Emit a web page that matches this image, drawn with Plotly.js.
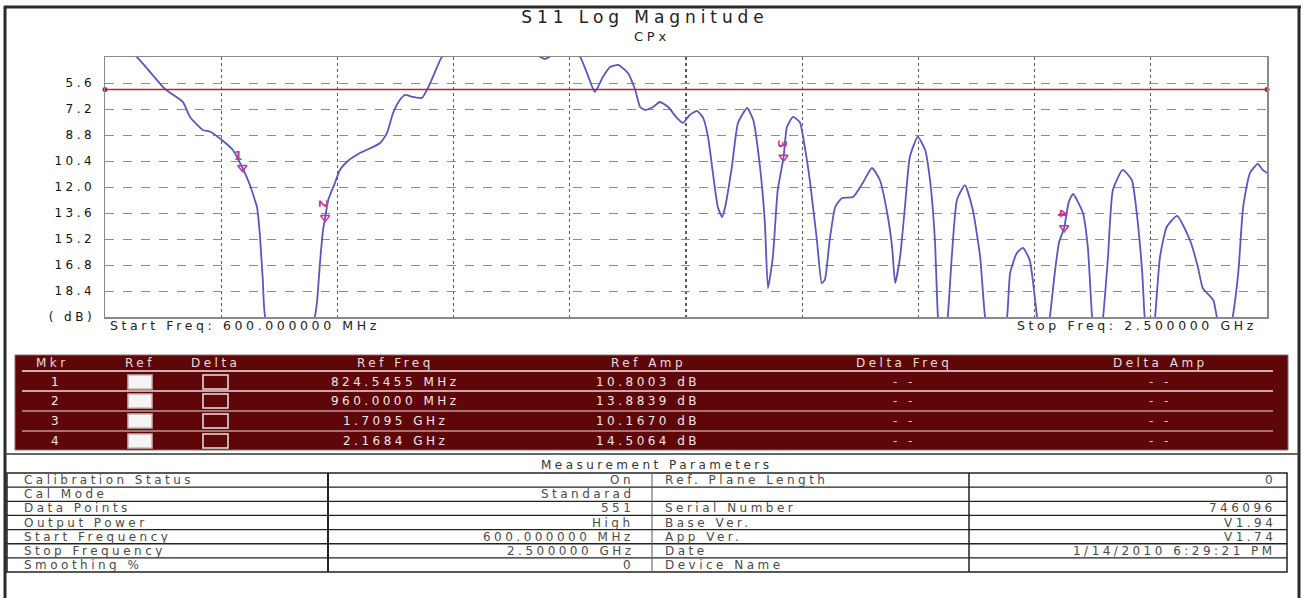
<!DOCTYPE html>
<html>
<head>
<meta charset="utf-8">
<script src="https://cdn.plot.ly/plotly-3.0.1.min.js"></script>
<style>
  html,body{margin:0;padding:0;background:#fff;}
  #chart text, #js-plotly-tester text { letter-spacing: 0.29em; }
</style>
</head>
<body>
<div id="chart" style="width:1304px;height:598px;"></div>
<script>
// ---------------- DATA ----------------
const freqMHz = [600,652,698,727,739,760,772,791,809,824.5,837,845,848.5,853,858,862,902,943,947,951.5,956.5,960,965,976,984,997,1017,1050,1061,1071,1082,1090,1104,1118,1128,1143,1151,1213,1295,1319,1344,1360,1377,1388,1401,1414,1426,1439,1455,1467,1475,1483,1496,1507,1521,1535,1545,1556,1568,1578,1586,1594,1602,1609,1614,1625,1635,1650,1660,1671,1679,1684,1692,1700,1709.5,1715,1725,1736,1745,1753,1764,1772,1777,1785,1794,1805,1823,1839,1854,1867,1879,1887,1892,1900,1908,1916,1929,1941,1949,1957,1962,1970,1978,1985,1993,2006,2019,2031,2039,2057,2075,2080,2091,2101,2112,2117,2124,2134,2145,2153,2160,2168.4,2176,2183,2199,2207,2214,2222,2232,2240,2248,2264,2279,2287,2296,2300,2309,2317,2325,2336,2353,2374,2387,2395,2412,2418,2431,2444,2453,2461,2472,2485,2493,2500];
const s11dB = [2.6,4.0,5.97,6.75,7.69,8.49,8.6,9.11,9.72,10.80,11.88,12.80,13.23,14.83,17.72,20.0,23.5,20.0,18.95,16.68,14.65,13.88,12.80,11.75,10.95,10.40,9.91,9.29,8.68,7.45,6.65,6.34,6.46,6.52,5.91,4.62,4.0,2.6,3.6,4.12,3.6,3.4,4.0,4.98,6.15,5.23,4.62,4.49,4.98,6.03,7.08,7.26,7.08,6.77,7.08,7.75,8.06,7.57,7.32,7.75,8.92,11.14,13.23,13.85,13.23,10.77,8.06,7.14,7.88,10.77,14.22,18.22,16.31,12.18,10.17,8.31,7.69,8.0,9.72,11.75,15.26,17.91,17.72,15.26,13.23,12.68,12.62,11.75,10.83,11.57,13.6,15.69,17.91,16.31,13.23,10.15,8.92,9.72,11.57,15.26,20.0,22.5,20.0,16.06,12.80,11.88,13.42,16.31,20.0,23.5,20.0,17.29,16.06,15.75,16.49,17.72,20.0,22.5,20.0,17.29,15.4,14.51,12.9,12.43,13.6,15.69,20.0,22.5,20.0,16.31,12.18,10.95,11.57,13.6,17.29,20.0,22.5,20.0,16.31,14.46,13.78,15.26,16.92,18.22,18.95,20.0,22.5,20.0,17.29,13.23,11.14,10.58,10.95,11.14];

const limitDB = 6.0;
const limitFreqMHz = [600, 2251, 2500];

const yTickVals = [5.6,7.2,8.8,10.4,12.0,13.6,15.2,16.8,18.4,20.0];
const yTickText = ['5.6','7.2','8.8','10.4','12.0','13.6','15.2','16.8','18.4','( dB)'];

const mkrIds = ['1','2','3','4'];
const mkrFreqMHz = [824.5455, 960.0, 1709.5, 2168.4];
const mkrAmpDB = [10.8003, 13.8839, 10.1670, 14.5064];
const mkrFreqText = ['824.5455 MHz','960.0000 MHz','1.7095 GHz','2.1684 GHz'];
const mkrAmpText = ['10.8003 dB','13.8839 dB','10.1670 dB','14.5064 dB'];
const mkrDeltaFreq = ['- -','- -','- -','- -'];
const mkrDeltaAmp = ['- -','- -','- -','- -'];
const mkrHeaders = ['Mkr','Ref','Delta','Ref Freq','Ref Amp','Delta Freq','Delta Amp'];

const paramTitle = 'Measurement Parameters';
const paramLabelsL = ['Calibration Status','Cal Mode','Data Points','Output Power','Start Frequency','Stop Frequency','Smoothing %'];
const paramValuesL = ['On','Standarad','551','High','600.000000 MHz','2.500000 GHz','0'];
const paramLabelsR = ['Ref. Plane Length','','Serial Number','Base Ver.','App Ver.','Date','Device Name'];
const paramValuesR = ['0','','746096','V1.94','V1.74','1/14/2010 6:29:21 PM',''];

const chartTitle = 'S11 Log Magnitude';
const chartSubtitle = 'CPx';
const startText = 'Start Freq: 600.000000 MHz';
const stopText = 'Stop Freq: 2.500000 GHz';

// ---------------- LAYOUT HELPERS ----------------
const W = 1304, H = 598, L = 105, R = 1267, T = 57, B = 317;
const px = x => (x - L) / (R - L);
const py = y => (B - y) / (B - T);
const FONT = 'DejaVu Sans, Liberation Sans, Arial, sans-serif';
const shapes = [];
const annotations = [];
function line(x0, y0, x1, y1, color, width) {
  shapes.push({type:'line', xref:'paper', yref:'paper', x0:px(x0), y0:py(y0), x1:px(x1), y1:py(y1),
               line:{color:color, width:width}, layer:'above'});
}
function rect(x0, y0, x1, y1, fill, lcolor, lwidth) {
  shapes.push({type:'rect', xref:'paper', yref:'paper', x0:px(x0), y0:py(y0), x1:px(x1), y1:py(y1),
               fillcolor:fill, line:{color:lcolor || 'rgba(0,0,0,0)', width:lwidth || 0}, layer:'above'});
}
function txt(x, y, text, anchor, size, color) {
  annotations.push({xref:'paper', yref:'paper', x:px(x), y:py(y), text:text, showarrow:false,
                    xanchor:anchor, yanchor:'middle', font:{family:FONT, size:size, color:color}});
}

// outer frame
line(4, 7, 1301, 7, '#2b2b2b', 3);
line(5, 6, 5, 598, '#2b2b2b', 3);
line(1299, 6, 1299, 598, '#2b2b2b', 3);
line(5, 454, 1299, 454, '#333', 1.5);

// subtitle & start/stop labels
txt(652, 36, chartSubtitle, 'center', 13, '#222');
txt(108, 325, startText, 'left', 12.5, '#222');
txt(1259, 325, stopText, 'right', 12.5, '#222');

// marker table
const mtTop = 355, mtBot = 450, mtL = 15, mtR = 1288;
rect(mtL, mtTop, mtR, mtBot, '#5f0609', '#8a6a6a', 1);
const rowY = [382, 401, 421, 441];
const colX = [52, 140, 215, 395, 648, 904, 1160];
line(22, 371, 1273, 371, '#f0e8e8', 1.5);
line(22, 391, 1273, 391, '#e6dcdc', 1.3);
line(22, 411, 1273, 411, '#b89a9a', 1.3);
line(22, 431, 1273, 431, '#b89a9a', 1.3);
mkrHeaders.forEach((h, i) => txt(colX[i], 363, h, 'center', 12, '#e8dede'));
mkrIds.forEach((id, r) => {
  const y = rowY[r];
  txt(colX[0] + 4, y, id, 'center', 12, '#f0e8e8');
  rect(128, y - 7, 152, y + 7, '#f4f4f4', '#c8b4b4', 1.5);
  rect(203, y - 7, 228, y + 7, 'rgba(0,0,0,0)', '#ece4e4', 1.5);
  txt(colX[3], y, mkrFreqText[r], 'center', 12, '#f0e8e8');
  txt(colX[4], y, mkrAmpText[r], 'center', 12, '#f0e8e8');
  txt(colX[5], y, mkrDeltaFreq[r], 'center', 12, '#d8cccc');
  txt(colX[6], y, mkrDeltaAmp[r], 'center', 12, '#d8cccc');
});

// parameters table
txt(656, 465, paramTitle, 'center', 12, '#333');
const ptTop = 473, ptRow = 14.15;
rect(7, ptTop, 1287, ptTop + 7 * ptRow, 'rgba(0,0,0,0)', '#222', 1.5);
for (let i = 1; i < 7; i++) line(7, ptTop + i * ptRow, 1287, ptTop + i * ptRow, '#222', 1.3);
line(328, ptTop, 328, ptTop + 7 * ptRow, '#222', 2);
line(652, ptTop, 652, ptTop + 7 * ptRow, '#555', 1);
line(969, ptTop, 969, ptTop + 7 * ptRow, '#222', 1.5);
for (let i = 0; i < 7; i++) {
  const y = ptTop + (i + 0.5) * ptRow;
  txt(22, y, paramLabelsL[i], 'left', 12, '#4a4a4a');
  if (paramValuesL[i]) txt(636, y, paramValuesL[i], 'right', 12, '#4a4a4a');
  if (paramLabelsR[i]) txt(663, y, paramLabelsR[i], 'left', 12, '#4a4a4a');
  if (paramValuesR[i]) txt(1278, y, paramValuesR[i], 'right', 12, '#4a4a4a');
}

// marker labels on the curve
mkrIds.forEach((id, i) => {
  annotations.push({xref:'x', yref:'y', x:mkrFreqMHz[i], y:mkrAmpDB[i], text:id, showarrow:false,
    yshift:12, xshift:-2, textangle: i === 0 ? 0 : 90,
    font:{family:FONT, size:12, color:'#cc3399', weight:'bold'}});
});

// ---------------- TRACES ----------------
const traces = [
  {x: freqMHz, y: s11dB, type:'scatter', mode:'lines',
   line:{color:'#5858c0', width:1.8, shape:'spline', smoothing:0.5}, cliponaxis:true},
  {x: limitFreqMHz.slice(0, 2), y: [limitDB, limitDB], type:'scatter', mode:'lines',
   line:{color:'#b0262b', width:1.6}},
  {x: limitFreqMHz.slice(1), y: [limitDB, limitDB], type:'scatter', mode:'lines',
   line:{color:'#b42a30', width:1.3}},
  {x: [limitFreqMHz[0], limitFreqMHz[2]], y: [limitDB, limitDB], type:'scatter', mode:'markers',
   marker:{color:'#b0262b', size:5}, cliponaxis:false},
  {x: mkrFreqMHz, y: mkrAmpDB, type:'scatter', mode:'markers',
   marker:{symbol:'triangle-down-open', size:8, color:'#cc3399', line:{width:1.5, color:'#cc3399'}}}
];

const layout = {
  width: W, height: H,
  paper_bgcolor:'#ffffff', plot_bgcolor:'#ffffff',
  showlegend:false,
  margin:{l:L, r:W - R, t:T, b:H - B, pad:0},
  title:{text: chartTitle, x: 645 / W, xanchor:'center', y: 1 - 17 / H, yanchor:'middle', yref:'container',
         font:{family:FONT, size:17, color:'#222'}},
  xaxis:{range:[600, 2500], tickmode:'linear', tick0:600, dtick:190, showticklabels:false, ticks:'',
         showgrid:true, gridcolor:'#5a5a5a', griddash:'dot', gridwidth:1.3,
         showline:true, mirror:true, linecolor:'#8a8a8a', linewidth:1.5, zeroline:false, fixedrange:true},
  yaxis:{range:[20, 4], tickmode:'array', tickvals:yTickVals, ticktext:yTickText, ticks:'',
         showgrid:true, gridcolor:'#8c8c8c', griddash:'dash', gridwidth:1,
         showline:true, mirror:true, linecolor:'#8a8a8a', linewidth:1.5, zeroline:false,
         ticklabelstandoff:6, tickfont:{family:FONT, size:12, color:'#111'}, fixedrange:true},
  shapes: shapes,
  annotations: annotations
};

Plotly.newPlot('chart', traces, layout, {staticPlot:true, displayModeBar:false});
</script>
</body>
</html>
